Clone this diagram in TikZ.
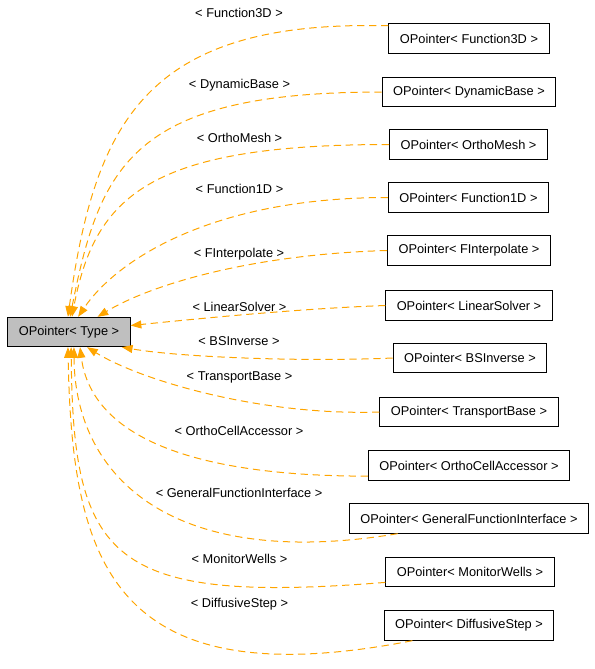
\documentclass[tikz,border=0pt]{standalone}
\usepackage{fontspec}
\setmainfont{Liberation Sans}
\usetikzlibrary{arrows.meta}
\definecolor{edgeorange}{HTML}{FFA500}
\definecolor{basegray}{HTML}{BFBFBF}
\tikzstyle{classbox} = [rectangle, draw=black, line width=0.75pt, minimum height=22pt, inner xsep=8.25pt, inner ysep=0pt, text centered, font=\fontsize{9.6}{11}\selectfont]
\tikzstyle{baseclass} = [classbox, fill=basegray]
\tikzstyle{lbl} = [inner sep=0pt, font=\fontsize{9.6}{11}\selectfont]
\tikzstyle{instarrow} = [draw=edgeorange, line width=0.75pt, dash pattern=on 5.5pt off 3.5pt, -{Triangle[length=8pt, width=6pt]}]

\begin{document}
\begin{tikzpicture}[x=0.75pt, y=-0.75pt]

    \useasboundingbox (0,0) rectangle (595,669);

    % Nodes
    \node (type) [baseclass] at (69,332) {OPointer< Type >};
    \node (function3d) [classbox] at (469,38.5) {OPointer< Function3D >};
    \node (dynamicbase) [classbox] at (469,92) {OPointer< DynamicBase >};
    \node (orthomesh) [classbox] at (468.5,144.5) {OPointer< OrthoMesh >};
    \node (function1d) [classbox] at (468.5,197.5) {OPointer< Function1D >};
    \node (finterpolate) [classbox] at (469,250.5) {OPointer< FInterpolate >};
    \node (linearsolver) [classbox] at (469,305.5) {OPointer< LinearSolver >};
    \node (bsinverse) [classbox] at (470,358) {OPointer< BSInverse >};
    \node (transportbase) [classbox] at (469,412) {OPointer< TransportBase >};
    \node (orthocell) [classbox] at (469,465.5) {OPointer< OrthoCellAccessor >};
    \node (genfunc) [classbox] at (469,518.5) {OPointer< GeneralFunctionInterface >};
    \node (monitorwells) [classbox] at (470,572) {OPointer< MonitorWells >};
    \node (diffusivestep) [classbox] at (469,625.5) {OPointer< DiffusiveStep >};

    % Arrows
    \draw [instarrow] (function3d.171) .. controls +(-241,-6) and +(27,-197) .. (type.94);
    \draw [instarrow] (dynamicbase.west) .. controls +(-249,0) and +(30,-152) .. (type.86);
    \draw [instarrow] (orthomesh.west) .. controls +(-238,0) and +(23,-122) .. (type.79);
    \draw [instarrow] (function1d.west) .. controls +(-179,0) and +(37,-55) .. (type.59);
    \draw [instarrow] (finterpolate.west) .. controls +(-137,4) and +(53,-32) .. (type.28);
    \draw [instarrow] (linearsolver.west) .. controls +(-85,3) and +(69,-7) .. (type.6);
    \draw [instarrow] (bsinverse.west) .. controls +(-91,4) and +(58,10) .. (type.344);
    \draw [instarrow] (transportbase.west) .. controls +(-119,4) and +(53,33) .. (type.320);
    \draw [instarrow] (orthocell.186) .. controls +(-201,0) and +(10,78) .. (type.306);
    \draw [instarrow] (genfunc.192) .. controls +(-222,37) and +(1,133) .. (type.288);
    \draw [instarrow] (monitorwells.187) .. controls +(-275,22) and +(2,213) .. (type.278);
    \draw [instarrow] (diffusivestep.195) .. controls +(-302,59) and +(4,213) .. (type.266);

    % Labels
    \node (lblfunction3d) [lbl] at (239,13) {< Function3D >};
    \node (lbldynamicbase) [lbl] at (239.5,85) {< DynamicBase >};
    \node (lblorthomesh) [lbl] at (239.5,138) {< OrthoMesh >};
    \node (lblfunction1d) [lbl] at (239.5,189) {< Function1D >};
    \node (lblfinterpolate) [lbl] at (239,254) {< FInterpolate >};
    \node (lbllinearsolver) [lbl] at (239.5,307) {< LinearSolver >};
    \node (lblbsinverse) [lbl] at (239,341) {< BSInverse >};
    \node (lbltransportbase) [lbl] at (239.5,377) {< TransportBase >};
    \node (lblorthocell) [lbl] at (239,431) {< OrthoCellAccessor >};
    \node (lblgenfunc) [lbl] at (239,493) {< GeneralFunctionInterface >};
    \node (lblmonitorwells) [lbl] at (239.5,559) {< MonitorWells >};
    \node (lbldiffusivestep) [lbl] at (239.5,604) {< DiffusiveStep >};

\end{tikzpicture}
\end{document}
